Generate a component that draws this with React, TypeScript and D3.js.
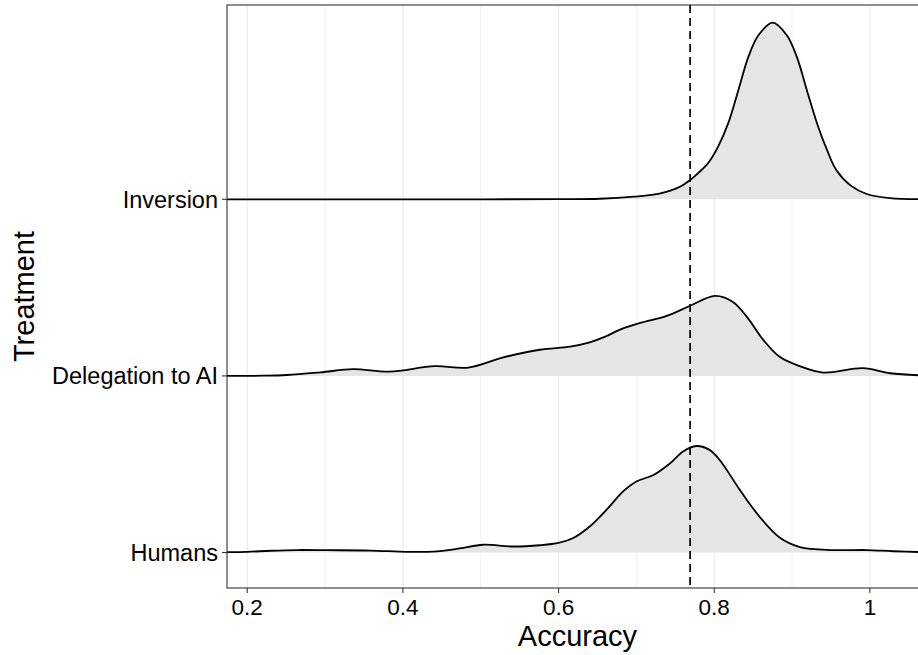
import * as d3 from 'd3'

// treatments, top to bottom
const treatments = ['Inversion', 'Delegation to AI', 'Humans']

// ridge heights, relative to the tallest ridge (accuracy, scaled density)
const inversion: [number, number][] = [
  [0.17, 0], [0.5, 0], [0.6, 0.001], [0.653, 0.003], [0.697, 0.015], [0.731, 0.034],
  [0.756, 0.071], [0.769, 0.109], [0.779, 0.147], [0.792, 0.204], [0.805, 0.298],
  [0.818, 0.431], [0.831, 0.618], [0.844, 0.808], [0.857, 0.93], [0.875, 1.0],
  [0.893, 0.93], [0.906, 0.808], [0.919, 0.618], [0.932, 0.431], [0.945, 0.278],
  [0.957, 0.164], [0.975, 0.079], [0.996, 0.03], [1.026, 0.007], [1.07, 0.001],
]

const delegation: [number, number][] = [
  [0.17, 0], [0.22, 0.001], [0.251, 0.005], [0.294, 0.02], [0.336, 0.038],
  [0.383, 0.024], [0.441, 0.055], [0.484, 0.047], [0.529, 0.105], [0.576, 0.148],
  [0.615, 0.166], [0.64, 0.19], [0.66, 0.222], [0.679, 0.262], [0.705, 0.3],
  [0.739, 0.34], [0.769, 0.397], [0.801, 0.453], [0.824, 0.419], [0.842, 0.334],
  [0.863, 0.204], [0.884, 0.108], [0.91, 0.055], [0.94, 0.019], [0.991, 0.044],
  [1.026, 0.015], [1.07, 0.002],
]

const humans: [number, number][] = [
  [0.17, 0.002], [0.2, 0.004], [0.23, 0.01], [0.264, 0.014], [0.302, 0.013],
  [0.358, 0.011], [0.405, 0.004], [0.439, 0.005], [0.473, 0.023], [0.503, 0.044],
  [0.541, 0.034], [0.576, 0.041], [0.6, 0.054], [0.619, 0.082], [0.64, 0.147],
  [0.662, 0.244], [0.683, 0.346], [0.7, 0.402], [0.722, 0.439], [0.743, 0.504],
  [0.76, 0.572], [0.777, 0.603], [0.794, 0.581], [0.807, 0.524], [0.833, 0.354],
  [0.858, 0.204], [0.884, 0.085], [0.91, 0.031], [0.953, 0.014], [0.996, 0.014],
  [1.03, 0.007], [1.07, 0.002],
]

const ridges = [inversion, delegation, humans]

const majorTicks = [0.2, 0.4, 0.6, 0.8, 1.0]
const minorTicks = [0.3, 0.5, 0.7, 0.9]
const tickLabels = ['0.2', '0.4', '0.6', '0.8', '1']
const reference = 0.769

const W = 918
const H = 655
const panel = { left: 227, top: 5, right: 928, bottom: 588 }

const App = () => {
  const x = d3.scaleLinear().domain([0.2, 1.0]).range([247.2, 869.9])
  const y = d3.scalePoint().domain(treatments).range([199.3, 552.5])
  const step = y.step()
  const font = "'Liberation Sans', Arial, Helvetica, sans-serif"
  const curve = d3.curveCatmullRom.alpha(0.5)

  return (
    <svg width={W} height={H} style={{ position: 'absolute', left: 0, top: 0, background: '#fff' }}>
      <defs>
        <clipPath id='panel-clip'>
          <rect x={panel.left} y={panel.top} width={panel.right - panel.left} height={panel.bottom - panel.top} />
        </clipPath>
      </defs>
      <rect x={panel.left} y={panel.top} width={panel.right - panel.left} height={panel.bottom - panel.top} fill='#fff' />
      <g clipPath='url(#panel-clip)'>
        {minorTicks.map((t) => (
          <line key={'mi' + t} x1={x(t)} x2={x(t)} y1={panel.top} y2={panel.bottom} stroke='#ebebeb' strokeWidth={0.7} />
        ))}
        {majorTicks.map((t) => (
          <line key={'ma' + t} x1={x(t)} x2={x(t)} y1={panel.top} y2={panel.bottom} stroke='#ebebeb' strokeWidth={1.2} />
        ))}
        {ridges.map((r, i) => {
          const base = y(treatments[i]) as number
          const area = d3
            .area<[number, number]>()
            .x((d) => x(d[0]))
            .y0(base)
            .y1((d) => Math.min(base, base - d[1] * step))
            .curve(curve)
          const line = d3
            .line<[number, number]>()
            .x((d) => x(d[0]))
            .y((d) => base - d[1] * step)
            .curve(curve)
          return (
            <g key={treatments[i]}>
              <path d={area(r) || ''} fill='#e5e5e5' />
              <path d={line(r) || ''} fill='none' stroke='#000' strokeWidth={1.8} strokeLinejoin='round' />
            </g>
          )
        })}
        <line x1={x(reference)} x2={x(reference)} y1={panel.top} y2={panel.bottom} stroke='#000' strokeWidth={1.7} strokeDasharray='8,5' />
      </g>
      <rect x={panel.left} y={panel.top} width={panel.right - panel.left} height={panel.bottom - panel.top} fill='none' stroke='#333' strokeWidth={1.1} />

      {majorTicks.map((t, i) => (
        <g key={'xt' + t}>
          <line x1={x(t)} x2={x(t)} y1={panel.bottom} y2={panel.bottom + 5} stroke='#333' strokeWidth={1.1} />
          <text x={x(t)} y={615} textAnchor='middle' fontFamily={font} fontSize={22.5} fill='#000'>
            {tickLabels[i]}
          </text>
        </g>
      ))}
      {treatments.map((t) => (
        <g key={'yt' + t}>
          <line x1={panel.left - 5} x2={panel.left} y1={y(t)} y2={y(t)} stroke='#333' strokeWidth={1.1} />
          <text x={panel.left - 9} y={(y(t) as number) + 8.5} textAnchor='end' fontFamily={font} fontSize={23.5} fill='#000'>
            {t}
          </text>
        </g>
      ))}
      <text x={(panel.left + panel.right) / 2} y={645.5} textAnchor='middle' fontFamily={font} fontSize={29} fill='#000'>
        Accuracy
      </text>
      <text
        transform={`translate(34,${(panel.top + panel.bottom) / 2}) rotate(-90)`}
        textAnchor='middle'
        fontFamily={font}
        fontSize={29}
        fill='#000'
      >
        Treatment
      </text>
    </svg>
  )
}

export default App
